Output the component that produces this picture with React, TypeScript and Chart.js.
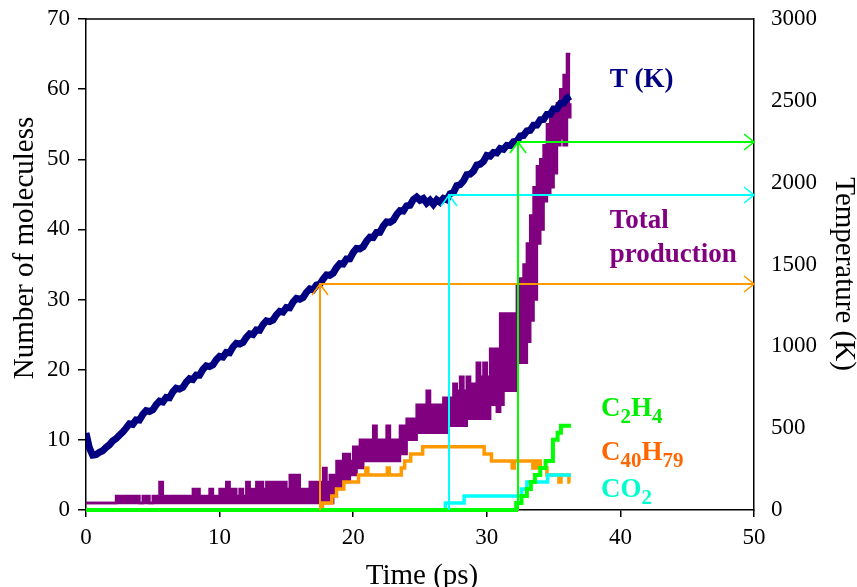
import React, { useEffect, useRef } from 'react';
import { Chart, registerables } from 'chart.js';

Chart.register(...registerables);

const SERIF = '"Liberation Serif", "Times New Roman", Times, serif';

// ---------- axes ----------
const TIME_MIN = 0;
const TIME_MAX = 50;
const TIME_TICK_STEP = 10;
const MOLECULE_MAX = 70;
const MOLECULE_TICK_STEP = 10;
const TEMP_AXIS_MAX = 3000;
const TEMP_AXIS_STEP = 500;

// ---------- temperature T (K), sampled every 0.25 ps from 0 ps ----------
const TEMP_SAMPLE_STEP = 0.25;
const TEMPERATURE_K = [
  470, 380, 335, 338, 352, 362, 382, 398, 422, 436,
  457, 476, 500, 527, 523, 551, 549, 584, 607, 602,
  612, 643, 665, 660, 688, 686, 722, 744, 739, 749,
  781, 802, 797, 825, 824, 859, 881, 876, 887, 918,
  939, 934, 963, 961, 996, 1018, 1014, 1024, 1055, 1076,
  1072, 1100, 1098, 1133, 1156, 1151, 1161, 1192, 1214, 1209,
  1237, 1235, 1271, 1293, 1288, 1298, 1330, 1351, 1346, 1374,
  1380, 1411, 1436, 1434, 1447, 1481, 1505, 1503, 1534, 1535,
  1573, 1598, 1596, 1609, 1643, 1667, 1665, 1696, 1697, 1735,
  1760, 1758, 1771, 1805, 1829, 1827, 1858, 1862, 1897, 1912,
  1893, 1903, 1875, 1893, 1868, 1895, 1880, 1904, 1896, 1932,
  1940, 1982, 1988, 2010, 2049, 2052, 2070, 2108, 2113, 2130,
  2166, 2162, 2185, 2182, 2209, 2204, 2228, 2226, 2250, 2254,
  2285, 2288, 2316, 2320, 2351, 2352, 2384, 2386, 2417, 2418,
  2450, 2451, 2484, 2486, 2516, 2528,
];

// ---------- total production (fluctuating band: low / high envelope), every 0.25 ps ----------
const PROD_SAMPLE_STEP = 0.25;
const PROD_HIGH = [
  1, 1, 1, 1, 1, 1, 1, 1, 1, 2,
  2, 2, 2, 2, 2, 2, 1, 2, 2, 1,
  2, 2, 4, 2, 2, 2, 2, 2, 2, 2,
  2, 2, 3, 3, 2, 2, 2, 3, 2, 2,
  3, 3, 4, 3, 3, 2, 3, 2, 4, 3,
  3, 4, 4, 3, 4, 4, 4, 4, 4, 4,
  3, 5, 5, 5, 3, 3, 3, 4, 4, 4,
  4, 6, 4, 5, 5, 7, 7, 8, 8, 7,
  9, 9, 10, 10, 10, 10, 12, 10, 10, 10,
  12, 10, 10, 10, 12, 12, 13, 13, 13, 15,
  15, 15, 17, 15, 15, 15, 15, 16, 16, 16,
  18, 17, 19, 17, 19, 18, 18, 21, 19, 21,
  19, 23, 23, 23, 28, 28, 28, 28, 28, 32,
  33, 35, 38, 42, 46, 49, 50, 52, 55, 56,
  57, 58, 60, 62, 65, 65,
];
const PROD_LOW = [
  1, 1, 1, 1, 1, 1, 1, 1, 1, 1,
  1, 1, 1, 1, 1, 1, 1, 1, 1, 1,
  1, 1, 1, 1, 1, 1, 1, 1, 1, 1,
  1, 1, 1, 1, 1, 1, 1, 1, 1, 1,
  1, 1, 1, 1, 1, 1, 1, 1, 1, 1,
  1, 1, 1, 1, 1, 1, 1, 1, 1, 1,
  1, 1, 1, 1, 1, 1, 1, 1, 1, 1,
  1, 1, 1, 1, 2, 3, 3, 4, 4, 5,
  5, 6, 6, 7, 7, 7, 7, 7, 7, 7,
  7, 7, 7, 7, 8, 8, 10, 10, 10, 11,
  11, 11, 11, 11, 11, 11, 11, 11, 12, 12,
  12, 12, 12, 12, 13, 13, 13, 13, 13, 13,
  13, 15, 15, 14, 15, 17, 17, 17, 17, 21,
  21, 21, 24, 27, 30, 38, 40, 44, 45, 46,
  48, 52, 53, 52, 56, 58,
];

// ---------- species counts (step changes: time in ps -> count) ----------
const C40H79_TIME = [0, 17.7, 18.4, 18.75, 19.3, 20.4, 20.95, 21.1, 22.55, 22.7, 23.6, 23.85, 24.3, 25.2, 29.8, 30.35, 31.9, 32.05, 33.45, 33.6, 33.75, 33.9, 34.0, 34.5, 35.4, 35.55, 36.15, 36.25];
const C40H79_COUNT = [0, 1, 2, 3, 4, 5, 6, 5, 6, 5, 6, 7, 8, 9, 8, 7, 6, 7, 6, 7, 6, 7, 6, 5, 4, 5, 4, 4];
const CO2_TIME = [0, 26.9, 28.3, 32.6, 33.0, 34.55, 36.3];
const CO2_COUNT = [0, 1, 2, 3, 4, 5, 5];
const C2H4_TIME = [0, 32.2, 32.6, 33.0, 33.3, 33.6, 34.0, 34.4, 34.95, 35.3, 35.55, 36.3];
const C2H4_COUNT = [0, 1, 2, 3, 4, 5, 6, 7, 10, 11, 12, 12];

// ---------- onset arrows (time in ps, temperature in K) ----------
const ARROW_TIME = [17.5, 27.2, 32.3];
const ARROW_TEMP = [1380, 1925, 2250];
const ARROW_COLORS = ['#FF9900', '#00FFFF', '#00FF00'];

// ---------- colours ----------
const NAVY = '#000080';
const PURPLE = '#800080';
const ORANGE = '#FF9900';
const CYAN = '#00FFFF';
const GREEN = '#00FF00';

type Part = { t: string; sub?: boolean };
const ANNOTATIONS: { parts: Part[]; color: string; time: number; value: number }[] = [
  { parts: [{ t: 'T (K)' }], color: NAVY, time: 39.2, value: 60.3 },
  { parts: [{ t: 'Total' }], color: PURPLE, time: 39.2, value: 40.2 },
  { parts: [{ t: 'production' }], color: PURPLE, time: 39.2, value: 35.4 },
  { parts: [{ t: 'C' }, { t: '2', sub: true }, { t: 'H' }, { t: '4', sub: true }], color: '#00EE00', time: 38.55, value: 13.4 },
  { parts: [{ t: 'C' }, { t: '40', sub: true }, { t: 'H' }, { t: '79', sub: true }], color: '#FF6600', time: 38.55, value: 7.1 },
  { parts: [{ t: 'C' }, { t: 'O' }, { t: '2', sub: true }], color: '#00FFCC', time: 38.55, value: 1.85 },
];

const stepPoints = (times: number[], counts: number[]) => times.map((t, i) => ({ x: t, y: counts[i] }));
const gridPoints = (values: number[], step: number) => values.map((v, i) => ({ x: i * step, y: v }));

const framePlugin = {
  id: 'frame',
  beforeDatasetsDraw(chart: any) {
    const { ctx, chartArea } = chart;
    ctx.save();
    ctx.strokeStyle = '#000';
    ctx.lineWidth = 1.5;
    ctx.beginPath();
    ctx.moveTo(chartArea.left, chartArea.top);
    ctx.lineTo(chartArea.right, chartArea.top);
    ctx.stroke();
    ctx.restore();
  },
};

const arrowsPlugin = {
  id: 'arrows',
  afterDatasetsDraw(chart: any) {
    const { ctx } = chart;
    const xs = chart.scales.x;
    const ys = chart.scales.y;
    const yt = chart.scales.y1;
    const bottom = ys.getPixelForValue(0);
    const right = xs.getPixelForValue(TIME_MAX);
    ctx.save();
    ctx.lineWidth = 2;
    ARROW_TIME.forEach((t, i) => {
      const x = Math.round(xs.getPixelForValue(t));
      const y = Math.round(yt.getPixelForValue(ARROW_TEMP[i]));
      ctx.strokeStyle = ARROW_COLORS[i];
      ctx.beginPath();
      ctx.moveTo(x, bottom);
      ctx.lineTo(x, y);
      ctx.lineTo(right, y);
      ctx.stroke();
      ctx.lineWidth = 1.6;
      ctx.beginPath();
      ctx.moveTo(x - 8, y + 11);
      ctx.lineTo(x, y);
      ctx.lineTo(x + 8, y + 11);
      ctx.stroke();
      ctx.beginPath();
      ctx.moveTo(right - 10, y - 8);
      ctx.lineTo(right, y);
      ctx.lineTo(right - 10, y + 8);
      ctx.stroke();
      ctx.lineWidth = 2;
    });
    ctx.restore();
  },
};

const labelsPlugin = {
  id: 'labels',
  afterDatasetsDraw(chart: any) {
    const { ctx } = chart;
    const xs = chart.scales.x;
    const ys = chart.scales.y;
    const size = 27;
    ctx.save();
    ctx.textBaseline = 'alphabetic';
    ctx.textAlign = 'left';
    ANNOTATIONS.forEach((a) => {
      let cx = xs.getPixelForValue(a.time);
      const by = ys.getPixelForValue(a.value);
      ctx.fillStyle = a.color;
      a.parts.forEach((p) => {
        const fs = p.sub ? 21 : size;
        ctx.font = `bold ${fs}px ${SERIF}`;
        ctx.fillText(p.t, cx, by + (p.sub ? 7 : 0));
        cx += ctx.measureText(p.t).width;
      });
    });
    ctx.restore();
  },
};

const titlesPlugin = {
  id: 'axisTitles',
  afterDraw(chart: any) {
    const { ctx, chartArea } = chart;
    ctx.save();
    ctx.fillStyle = '#000';
    ctx.font = `29px ${SERIF}`;
    ctx.textAlign = 'center';
    ctx.textBaseline = 'alphabetic';
    ctx.fillText('Time (ps)', (chartArea.left + chartArea.right) / 2 + 2, chart.height - 3);

    ctx.save();
    ctx.translate(33, 248);
    ctx.rotate(-Math.PI / 2);
    ctx.fillText('Number of moleculess', 0, 0);
    ctx.restore();

    ctx.save();
    ctx.translate(836, 274);
    ctx.rotate(Math.PI / 2);
    ctx.fillText('Temperature (K)', 0, 0);
    ctx.restore();
    ctx.restore();
  },
};

export default function App() {
  const ref = useRef<HTMLCanvasElement>(null);

  useEffect(() => {
    const canvas = ref.current;
    if (!canvas) return;
    const tickFont = { family: SERIF, size: 23 };
    const chart = new Chart(canvas, {
      type: 'line',
      data: {
        datasets: [
          {
            label: 'T (K)',
            data: gridPoints(TEMPERATURE_K, TEMP_SAMPLE_STEP),
            yAxisID: 'y1',
            borderColor: NAVY,
            borderWidth: 7,
            pointRadius: 0,
            tension: 0,
            order: 3,
          },
          {
            label: 'Total production (low)',
            data: gridPoints(PROD_LOW, PROD_SAMPLE_STEP),
            yAxisID: 'y',
            borderColor: PURPLE,
            borderWidth: 2.5,
            pointRadius: 0,
            stepped: 'before',
            order: 5,
          },
          {
            label: 'Total production',
            data: gridPoints(PROD_HIGH, PROD_SAMPLE_STEP),
            yAxisID: 'y',
            borderColor: PURPLE,
            backgroundColor: PURPLE,
            borderWidth: 2.5,
            pointRadius: 0,
            stepped: 'before',
            fill: '-1',
            order: 4,
          },
          {
            label: 'C40H79',
            data: stepPoints(C40H79_TIME, C40H79_COUNT),
            yAxisID: 'y',
            borderColor: ORANGE,
            borderWidth: 3.5,
            pointRadius: 0,
            stepped: 'before',
            clip: false as any,
            order: 2,
          },
          {
            label: 'CO2',
            data: stepPoints(CO2_TIME, CO2_COUNT),
            yAxisID: 'y',
            borderColor: CYAN,
            borderWidth: 3.5,
            pointRadius: 0,
            stepped: 'before',
            clip: false as any,
            order: 1,
          },
          {
            label: 'C2H4',
            data: stepPoints(C2H4_TIME, C2H4_COUNT),
            yAxisID: 'y',
            borderColor: GREEN,
            borderWidth: 4,
            pointRadius: 0,
            stepped: 'before',
            clip: false as any,
            order: 0,
          },
        ],
      },
      options: {
        animation: false,
        responsive: false,
        devicePixelRatio: 1,
        layout: { padding: { top: 19, left: 0, right: 0, bottom: 0 } },
        plugins: {
          legend: { display: false },
          tooltip: { enabled: false },
          title: { display: false },
        },
        scales: {
          x: {
            type: 'linear',
            position: 'bottom',
            min: TIME_MIN,
            max: TIME_MAX,
            afterFit: (s: any) => { s.height = 77; s.paddingLeft = 0; s.paddingRight = 0; },
            ticks: { stepSize: TIME_TICK_STEP, color: '#000', font: tickFont, padding: 7, maxRotation: 0 },
            grid: { display: true, drawOnChartArea: false, drawTicks: true, tickLength: 7, color: '#000', lineWidth: 1.5 },
            border: { display: true, color: '#000', width: 1.5 },
          },
          y: {
            type: 'linear',
            position: 'left',
            min: 0,
            max: MOLECULE_MAX,
            afterFit: (s: any) => { s.width = 86; s.paddingTop = 0; s.paddingBottom = 0; },
            ticks: { stepSize: MOLECULE_TICK_STEP, color: '#000', font: tickFont, padding: 8 },
            grid: { display: true, drawOnChartArea: false, drawTicks: true, tickLength: 8, color: '#000', lineWidth: 1.5 },
            border: { display: true, color: '#000', width: 1.5 },
          },
          y1: {
            type: 'linear',
            position: 'right',
            min: 0,
            max: TEMP_AXIS_MAX,
            afterFit: (s: any) => { s.width = 103; s.paddingTop = 0; s.paddingBottom = 0; },
            ticks: { stepSize: TEMP_AXIS_STEP, color: '#000', font: tickFont, padding: 17, callback: (v: any) => String(v) },
            grid: { display: false, drawTicks: false },
            border: { display: true, color: '#000', width: 1.5 },
          },
        },
      },
      plugins: [framePlugin, arrowsPlugin, labelsPlugin, titlesPlugin],
    } as any);
    return () => chart.destroy();
  }, []);

  return (
    <div style={{ position: 'fixed', left: 0, top: 0, width: 857, height: 587, background: '#fff' }}>
      <canvas ref={ref} width={857} height={587} style={{ width: 857, height: 587, display: 'block' }} />
    </div>
  );
}
